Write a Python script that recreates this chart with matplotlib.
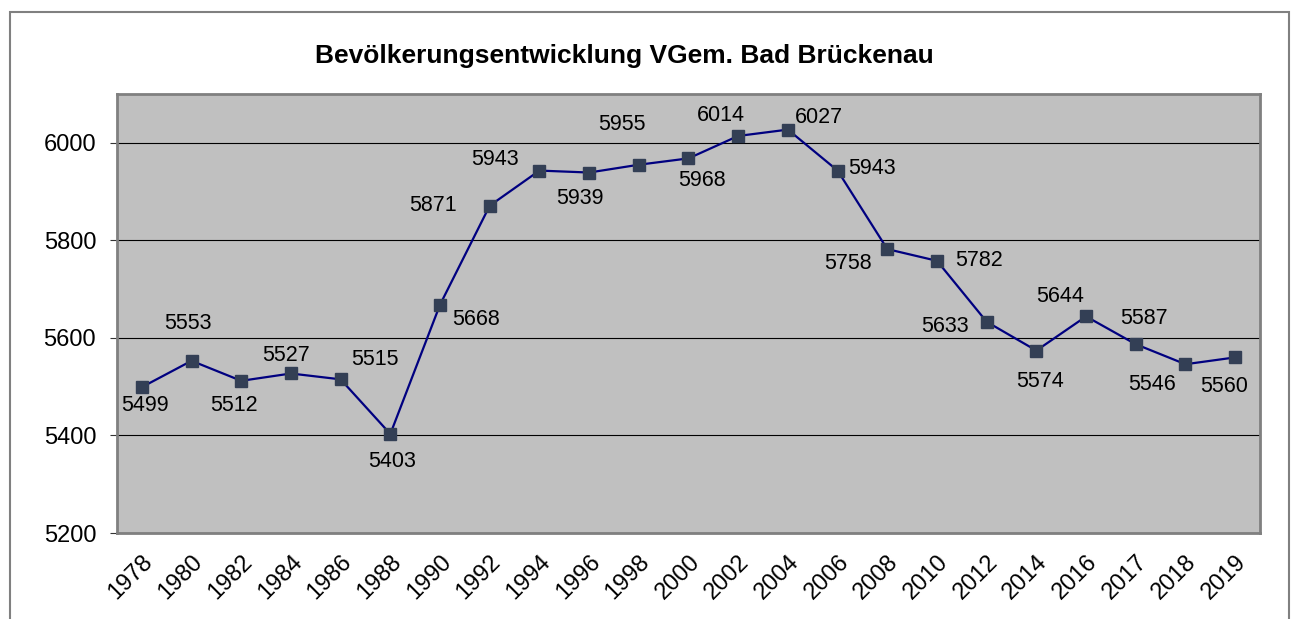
import matplotlib.pyplot as plt
from matplotlib.patches import Rectangle

plt.rcParams['font.family'] = ['Liberation Sans', 'DejaVu Sans']

years = ['1978', '1980', '1982', '1984', '1986', '1988', '1990', '1992', '1994',
         '1996', '1998', '2000', '2002', '2004', '2006', '2008', '2010', '2012',
         '2014', '2016', '2017', '2018', '2019']
population = [5499, 5553, 5512, 5527, 5515, 5403, 5668, 5871, 5943,
              5939, 5955, 5968, 6014, 6027, 5943, 5782, 5758, 5633,
              5574, 5644, 5587, 5546, 5560]
# data labels as printed in the source chart (2008/2010 appear swapped there)
point_labels = ['5499', '5553', '5512', '5527', '5515', '5403', '5668', '5871', '5943',
                '5939', '5955', '5968', '6014', '6027', '5943', '5758', '5782', '5633',
                '5574', '5644', '5587', '5546', '5560']
# label offsets in pixels (dx right, dy up)
label_offsets = [(3, -18), (-4, 37), (-7, -25), (-5, 18), (34, 20), (2, -28),
                 (36, -15), (-57, 0), (-44, 11), (-9, -26), (-17, 40), (13, -22),
                 (-17, 20), (31, 12), (34, 2), (-39, -14), (42, 0), (-42, -5),
                 (4, -31), (-26, 20), (8, 26), (-33, -20), (-11, -29)]

W, H = 1298, 619
fig = plt.figure(figsize=(W / 100, H / 100), dpi=100)
ax = fig.add_axes([117 / W, 1 - 533 / H, (1260 - 117) / W, (533 - 94) / H])
ax.set_facecolor('#c0c0c0')

x = list(range(len(years)))
ax.plot(x, population, color='#000080', lw=1.6, marker='s', markersize=8,
        markerfacecolor='#333f55', markeredgecolor='#333f55', zorder=3)

for xi, yi, lab, (dx, dy) in zip(x, population, point_labels, label_offsets):
    ax.annotate(lab, (xi, yi), xytext=(dx, dy), textcoords='offset pixels',
                ha='center', va='center', fontsize=15.5, color='black')

ax.set_xlim(-0.5, len(years) - 0.5)
ax.set_ylim(5200, 6100)
ax.set_yticks([5200, 5400, 5600, 5800, 6000])
ax.tick_params(axis='y', labelsize=17, length=5, pad=10, color='#333333')
ax.set_xticks(x)
ax.set_xticklabels(years, rotation=45, ha='right', rotation_mode='anchor')
ax.tick_params(axis='x', labelsize=17, length=0, pad=13)
ax.yaxis.grid(True, color='black', lw=0.8)
ax.set_axisbelow(True)
for s in ax.spines.values():
    s.set_color('#808080')
    s.set_linewidth(2)

fig.text(624 / W, 1 - 56 / H, 'Bevölkerungsentwicklung VGem. Bad Brückenau',
         ha='center', va='center', fontsize=19, fontweight='bold')

fig.add_artist(Rectangle((10 / W, -0.1), (1289 - 10) / W, 1.1 - 12 / H,
                         transform=fig.transFigure, fill=False,
                         edgecolor='#808080', lw=1.5))

fig.savefig('out.png', dpi=100)
